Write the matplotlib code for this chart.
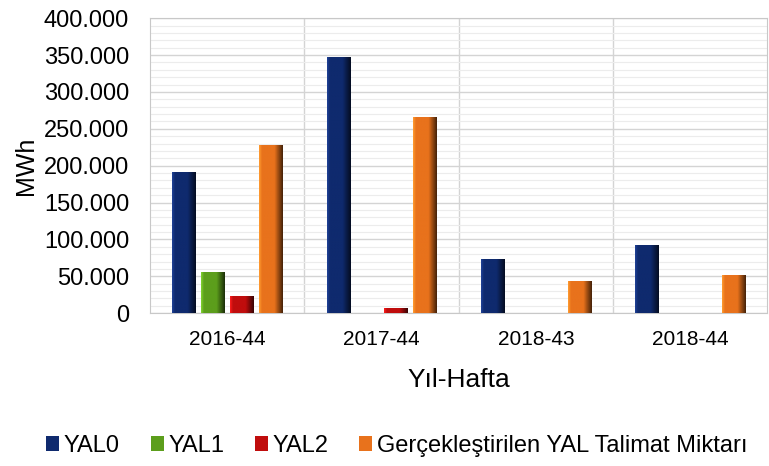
import numpy as np
import matplotlib.pyplot as plt
from matplotlib.colors import LinearSegmentedColormap
from matplotlib.ticker import FuncFormatter, MultipleLocator

plt.rcParams['font.family'] = ['Liberation Sans', 'DejaVu Sans']

weeks = ["2016-44", "2017-44", "2018-43", "2018-44"]
series = ["YAL0", "YAL1", "YAL2", "Gerçekleştirilen YAL Talimat Miktarı"]
yal0 = [191000, 347000, 73000, 92000]
yal1 = [55500, 0, 0, 0]
yal2 = [23000, 7000, 0, 0]
talimat = [228000, 266000, 43000, 51500]
colors = ["#0f2a6e", "#5c9e1c", "#c00d0d", "#e8721c"]

values = [yal0, yal1, yal2, talimat]

fig, ax = plt.subplots(figsize=(7.69, 4.66), dpi=100)
fig.subplots_adjust(left=0.195, right=0.998, bottom=0.328, top=0.961)

x = np.arange(len(weeks))
width = 0.15
step = 0.187


def shade(color):
    c = np.array(plt.matplotlib.colors.to_rgb(color))
    light = np.clip(c * 1.25 + 0.05, 0, 1)
    dark = c * 0.3
    return LinearSegmentedColormap.from_list(
        "s", [(0, light), (0.12, c), (0.65, c), (1.0, dark)])


for i, (name, vals, col) in enumerate(zip(series, values, colors)):
    pos = x + (i - 1.5) * step
    bars = ax.bar(pos, vals, width, color=col, label=name, zorder=3)
    cmap = shade(col)
    grad = np.linspace(0, 1, 64).reshape(1, -1)
    for b in bars:
        if b.get_height() <= 0:
            continue
        im = ax.imshow(grad, cmap=cmap, aspect="auto", zorder=3.5,
                       extent=[b.get_x(), b.get_x() + b.get_width(),
                               0, b.get_height()])
        im.set_clip_path(b)

ax.set_xlim(-0.5, len(weeks) - 0.5)
ax.set_ylim(0, 400000)
ax.yaxis.set_major_locator(MultipleLocator(50000))
ax.yaxis.set_minor_locator(MultipleLocator(10000))
ax.yaxis.set_major_formatter(FuncFormatter(
    lambda v, p: "0" if v == 0 else f"{int(v):,}".replace(",", ".")))
ax.grid(axis="y", which="major", color="#d4d4d4", lw=1, zorder=0)
ax.grid(axis="y", which="minor", color="#ececec", lw=0.8, zorder=0)
for xv in x[:-1] + 0.5:
    ax.axvline(xv, color="#d4d4d4", lw=1, zorder=0)

ax.set_xticks(x)
ax.set_xticklabels(weeks, fontsize=15)
ax.tick_params(axis="y", labelsize=17, length=0, which="both", pad=15)
ax.tick_params(axis="x", length=0, pad=12)
for s in ax.spines.values():
    s.set_color("#c8c8c8")

ax.set_ylabel("MWh", fontsize=18, labelpad=4)
ax.set_xlabel("Yıl-Hafta", fontsize=19, labelpad=14)

ax.legend(loc="center", bbox_to_anchor=(0.40, -0.45), ncol=4,
          frameon=False, fontsize=17, handlelength=0.55, handleheight=0.55,
          handletextpad=0.2, columnspacing=1.3)

fig.savefig("out.png", dpi=100)
